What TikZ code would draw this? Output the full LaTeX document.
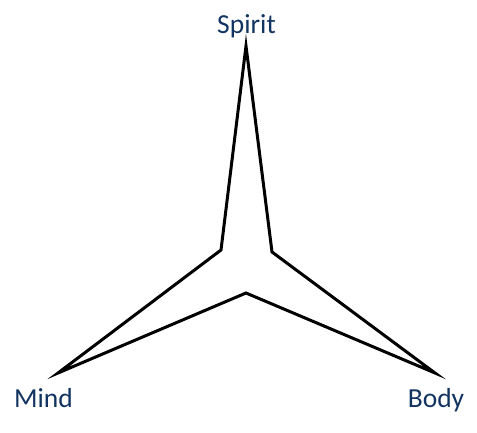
\documentclass[tikz,border=0pt]{standalone}
\usepackage{fontspec}
\setmainfont{Carlito}
\definecolor{lbl}{RGB}{18,52,96}
\begin{document}
\begin{tikzpicture}[x=1pt,y=-1pt,
  lab/.style={text=lbl,font=\fontsize{27.5}{30}\selectfont,anchor=base,inner sep=0pt},
  star/.style={draw=black,line width=3pt,line join=miter}]
\useasboundingbox (0,0) rectangle (477,432);
\coordinate (top) at (246,46);
\coordinate (ir) at (272,252);
\coordinate (br) at (435,373);
\coordinate (ib) at (246,293);
\coordinate (bl) at (58,373);
\coordinate (il) at (221,250);
\draw[star] (top) -- (ir) -- (br) -- (ib) -- (bl) -- (il) -- cycle;
\node[lab] (spirit) at (246.5,33) {Spirit};
\node[lab] (mind) at (43.5,407) {Mind};
\node[lab] (body) at (436,407) {Body};
\end{tikzpicture}
\end{document}
